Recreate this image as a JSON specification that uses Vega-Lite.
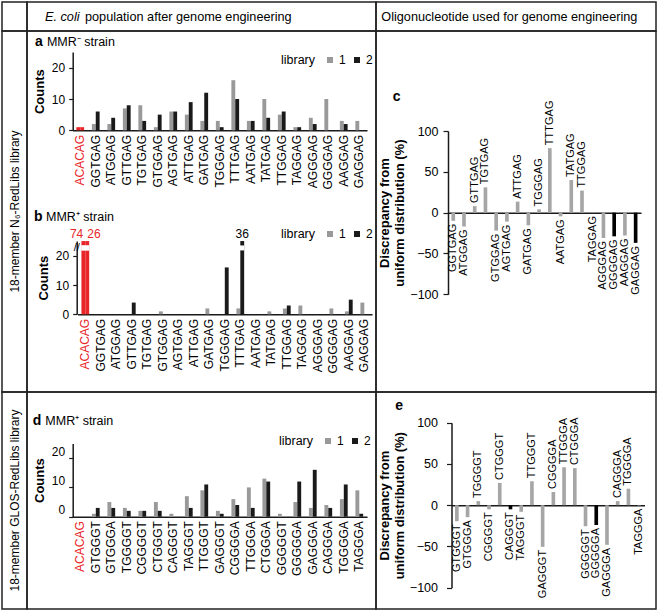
{
  "$schema": "https://vega.github.io/schema/vega-lite/v6.json",
  "padding": {"left": 1, "top": 1, "right": 2, "bottom": 2},
  "background": "white",
  "config": {
    "font": "Liberation Sans",
    "view": {"stroke": "#222222", "strokeWidth": 1.5},
    "axis": {"grid": false, "domainColor": "#1a1a1a", "domainWidth": 1.5, "tickColor": "#1a1a1a", "tickWidth": 1.2, "labelColor": "#000000", "titleColor": "#000000", "labelFont": "Liberation Sans", "titleFont": "Liberation Sans"},
    "legend": {"labelFontSize": 12, "titleFontSize": 12.5, "titleFontWeight": "normal", "titleColor": "#000000", "labelColor": "#000000", "symbolType": "square", "symbolSize": 36, "symbolStrokeWidth": 0, "columnPadding": 5, "labelOffset": 3, "titlePadding": 8},
    "text": {"font": "Liberation Sans", "color": "#000000"}
  },
  "datasets": {
    "a": [
      {"seq":"ACACAG","lib":"1","count":1},{"seq":"ACACAG","lib":"2","count":1},
      {"seq":"GGTGAG","lib":"1","count":2},{"seq":"GGTGAG","lib":"2","count":6},
      {"seq":"ATGGAG","lib":"1","count":2},{"seq":"ATGGAG","lib":"2","count":4},
      {"seq":"GTTGAG","lib":"1","count":7},{"seq":"GTTGAG","lib":"2","count":8},
      {"seq":"TGTGAG","lib":"1","count":8},{"seq":"TGTGAG","lib":"2","count":3},
      {"seq":"GTGGAG","lib":"1","count":1},{"seq":"GTGGAG","lib":"2","count":5},
      {"seq":"AGTGAG","lib":"1","count":6},{"seq":"AGTGAG","lib":"2","count":6},
      {"seq":"ATTGAG","lib":"1","count":5},{"seq":"ATTGAG","lib":"2","count":9},
      {"seq":"GATGAG","lib":"1","count":3},{"seq":"GATGAG","lib":"2","count":12},
      {"seq":"TGGGAG","lib":"1","count":3},{"seq":"TGGGAG","lib":"2","count":1},
      {"seq":"TTTGAG","lib":"1","count":16},{"seq":"TTTGAG","lib":"2","count":10},
      {"seq":"AATGAG","lib":"1","count":3},{"seq":"AATGAG","lib":"2","count":3},
      {"seq":"TATGAG","lib":"1","count":10},{"seq":"TATGAG","lib":"2","count":4},
      {"seq":"TTGGAG","lib":"1","count":5},{"seq":"TTGGAG","lib":"2","count":6},
      {"seq":"TAGGAG","lib":"1","count":1},{"seq":"TAGGAG","lib":"2","count":1},
      {"seq":"AGGGAG","lib":"1","count":4},{"seq":"AGGGAG","lib":"2","count":2},
      {"seq":"GGGGAG","lib":"1","count":10},{"seq":"GGGGAG","lib":"2","count":0},
      {"seq":"AAGGAG","lib":"1","count":3},{"seq":"AAGGAG","lib":"2","count":2},
      {"seq":"GAGGAG","lib":"1","count":3},{"seq":"GAGGAG","lib":"2","count":0}
    ],
    "b": [
      {"seq":"ACACAG","lib":"1","count":74},{"seq":"ACACAG","lib":"2","count":26},
      {"seq":"GGTGAG","lib":"1","count":0},{"seq":"GGTGAG","lib":"2","count":0},
      {"seq":"ATGGAG","lib":"1","count":0},{"seq":"ATGGAG","lib":"2","count":0},
      {"seq":"GTTGAG","lib":"1","count":0},{"seq":"GTTGAG","lib":"2","count":4},
      {"seq":"TGTGAG","lib":"1","count":0},{"seq":"TGTGAG","lib":"2","count":0},
      {"seq":"GTGGAG","lib":"1","count":1},{"seq":"GTGGAG","lib":"2","count":0},
      {"seq":"AGTGAG","lib":"1","count":0},{"seq":"AGTGAG","lib":"2","count":0},
      {"seq":"ATTGAG","lib":"1","count":0},{"seq":"ATTGAG","lib":"2","count":0},
      {"seq":"GATGAG","lib":"1","count":2},{"seq":"GATGAG","lib":"2","count":0},
      {"seq":"TGGGAG","lib":"1","count":0},{"seq":"TGGGAG","lib":"2","count":16},
      {"seq":"TTTGAG","lib":"1","count":2},{"seq":"TTTGAG","lib":"2","count":36},
      {"seq":"AATGAG","lib":"1","count":0},{"seq":"AATGAG","lib":"2","count":0},
      {"seq":"TATGAG","lib":"1","count":1},{"seq":"TATGAG","lib":"2","count":0},
      {"seq":"TTGGAG","lib":"1","count":2},{"seq":"TTGGAG","lib":"2","count":3},
      {"seq":"TAGGAG","lib":"1","count":3},{"seq":"TAGGAG","lib":"2","count":0},
      {"seq":"AGGGAG","lib":"1","count":0},{"seq":"AGGGAG","lib":"2","count":0},
      {"seq":"GGGGAG","lib":"1","count":2},{"seq":"GGGGAG","lib":"2","count":0},
      {"seq":"AAGGAG","lib":"1","count":1},{"seq":"AAGGAG","lib":"2","count":5},
      {"seq":"GAGGAG","lib":"1","count":4},{"seq":"GAGGAG","lib":"2","count":0}
    ],
    "d": [
      {"seq":"ACACAG","lib":"1","count":0},{"seq":"ACACAG","lib":"2","count":0},
      {"seq":"GTGGGT","lib":"1","count":1},{"seq":"GTGGGT","lib":"2","count":3},
      {"seq":"GTGGGA","lib":"1","count":5},{"seq":"GTGGGA","lib":"2","count":3},
      {"seq":"TGGGGT","lib":"1","count":3},{"seq":"TGGGGT","lib":"2","count":2},
      {"seq":"CGGGGT","lib":"1","count":2},{"seq":"CGGGGT","lib":"2","count":2},
      {"seq":"CTGGGT","lib":"1","count":5},{"seq":"CTGGGT","lib":"2","count":2},
      {"seq":"CAGGGT","lib":"1","count":1},{"seq":"CAGGGT","lib":"2","count":0},
      {"seq":"TAGGGT","lib":"1","count":7},{"seq":"TAGGGT","lib":"2","count":3},
      {"seq":"TTGGGT","lib":"1","count":9},{"seq":"TTGGGT","lib":"2","count":11},
      {"seq":"GAGGGT","lib":"1","count":2},{"seq":"GAGGGT","lib":"2","count":1},
      {"seq":"CGGGGA","lib":"1","count":6},{"seq":"CGGGGA","lib":"2","count":4},
      {"seq":"TTGGGA","lib":"1","count":10},{"seq":"TTGGGA","lib":"2","count":3},
      {"seq":"CTGGGA","lib":"1","count":13},{"seq":"CTGGGA","lib":"2","count":12},
      {"seq":"GGGGGT","lib":"1","count":1},{"seq":"GGGGGT","lib":"2","count":0},
      {"seq":"GGGGGA","lib":"1","count":5},{"seq":"GGGGGA","lib":"2","count":12},
      {"seq":"GAGGGA","lib":"1","count":3},{"seq":"GAGGGA","lib":"2","count":16},
      {"seq":"CAGGGA","lib":"1","count":4},{"seq":"CAGGGA","lib":"2","count":3},
      {"seq":"TGGGGA","lib":"1","count":6},{"seq":"TGGGGA","lib":"2","count":11},
      {"seq":"TAGGGA","lib":"1","count":9},{"seq":"TAGGGA","lib":"2","count":1}
    ],
    "c": [
      {"seq":"GGTGAG","value":-10,"highlight":false},
      {"seq":"ATGGAG","value":-17,"highlight":false},
      {"seq":"GTTGAG","value":8,"highlight":false},
      {"seq":"TGTGAG","value":31,"highlight":false},
      {"seq":"GTGGAG","value":-22,"highlight":false},
      {"seq":"AGTGAG","value":-11,"highlight":false},
      {"seq":"ATTGAG","value":13.5,"highlight":false},
      {"seq":"GATGAG","value":-15.5,"highlight":false},
      {"seq":"TGGGAG","value":4,"highlight":false},
      {"seq":"TTTGAG","value":79,"highlight":false},
      {"seq":"AATGAG","value":-4.5,"highlight":false},
      {"seq":"TATGAG","value":40,"highlight":false},
      {"seq":"TTGGAG","value":27,"highlight":false},
      {"seq":"TAGGAG","value":-0.5,"highlight":false},
      {"seq":"AGGGAG","value":-31,"highlight":false},
      {"seq":"GGGGAG","value":-29,"highlight":true},
      {"seq":"AAGGAG","value":-28,"highlight":false},
      {"seq":"GAGGAG","value":-37,"highlight":true}
    ],
    "e": [
      {"seq":"GTGGGT","value":-19.5,"highlight":false},
      {"seq":"GTGGGA","value":-14.5,"highlight":false},
      {"seq":"TGGGGT","value":5,"highlight":false},
      {"seq":"CGGGGT","value":-5,"highlight":false},
      {"seq":"CTGGGT","value":27,"highlight":false},
      {"seq":"CAGGGT","value":-5,"highlight":true},
      {"seq":"TAGGGT","value":-8,"highlight":false},
      {"seq":"TTGGGT","value":29,"highlight":false},
      {"seq":"GAGGGT","value":-50.5,"highlight":false},
      {"seq":"CGGGGA","value":16,"highlight":false},
      {"seq":"TTGGGA","value":46,"highlight":false},
      {"seq":"CTGGGA","value":45,"highlight":false},
      {"seq":"GGGGGT","value":-25.5,"highlight":false},
      {"seq":"GGGGGA","value":-24,"highlight":true},
      {"seq":"GAGGGA","value":-48,"highlight":false},
      {"seq":"CAGGGA","value":5,"highlight":false},
      {"seq":"TGGGGA","value":20,"highlight":false},
      {"seq":"TAGGGA","value":-0.5,"highlight":false}
    ]
  },
  "columns": 3,
  "spacing": 0,
  "bounds": "flush",
  "resolve": {"scale": {"color": "independent", "xOffset": "independent"}, "legend": {"color": "independent"}},
  "concat": [
    {"width": 25, "height": 29, "data": {"values": [{}]}, "mark": {"type": "text", "text": " "},
     "encoding": {"x": {"datum": 0.5, "type": "quantitative", "scale": {"domain": [0, 1]}, "axis": null}, "y": {"datum": 0.5, "type": "quantitative", "scale": {"domain": [0, 1]}, "axis": null}}},
    {"width": 349, "height": 29, "data": {"values": [{}]},
     "encoding": {"x": {"datum": 0.5, "type": "quantitative", "scale": {"domain": [0, 1]}, "axis": null}, "y": {"datum": 0.5, "type": "quantitative", "scale": {"domain": [0, 1]}, "axis": null}},
     "layer": [
       {"mark": {"type": "text", "text": "E. coli", "fontStyle": "italic", "align": "left", "baseline": "middle", "fontSize": 12.7, "dx": -156.5}},
       {"mark": {"type": "text", "text": "population after genome engineering", "align": "left", "baseline": "middle", "fontSize": 12.7, "dx": -116.5}}
     ]},
    {"width": 280, "height": 29, "data": {"values": [{}]},
     "mark": {"type": "text", "text": "Oligonucleotide used for genome engineering", "align": "left", "baseline": "middle", "fontSize": 12.7, "dx": -134.7},
     "encoding": {"x": {"datum": 0.5, "type": "quantitative", "scale": {"domain": [0, 1]}, "axis": null}, "y": {"datum": 0.5, "type": "quantitative", "scale": {"domain": [0, 1]}, "axis": null}}},

    {"width": 25, "height": 361, "data": {"values": [{}]},
     "mark": {"type": "text", "text": "18-member N₆-RedLibs library", "angle": 270, "fontSize": 12, "align": "center", "baseline": "middle"},
     "encoding": {"x": {"datum": 0.5, "type": "quantitative", "scale": {"domain": [0, 1]}, "axis": null}, "y": {"datum": 0.5, "type": "quantitative", "scale": {"domain": [0, 1]}, "axis": null}}},
    {"width": 349, "height": 361,
     "layer": [
       {"data": {"name": "a"},
        "layer": [
          {"mark": {"type": "bar"},
           "encoding": {
             "x": {"field": "seq", "type": "nominal",
                   "scale": {"domain": ["ACACAG","GGTGAG","ATGGAG","GTTGAG","TGTGAG","GTGGAG","AGTGAG","ATTGAG","GATGAG","TGGGAG","TTTGAG","AATGAG","TATGAG","TTGGAG","TAGGAG","AGGGAG","GGGGAG","AAGGAG","GAGGAG"], "range": [45.5, 340], "paddingInner": 0.5, "paddingOuter": 0.25},
                   "axis": {"orient": "bottom", "offset": -261.7, "title": null, "ticks": false, "labelAngle": -90, "labelFontSize": 12, "labelPadding": 4,
                            "labelColor": {"condition": {"test": "datum.value === 'ACACAG'", "value": "#e8262a"}, "value": "#000000"}}},
             "xOffset": {"field": "lib", "type": "nominal"},
             "y": {"field": "count", "type": "quantitative",
                   "scale": {"domain": [0, 25], "range": [99.3, 21.05], "nice": false},
                   "axis": {"orient": "left", "offset": -45.7, "values": [0, 10, 20], "title": "Counts", "titleFontSize": 13, "titleFontWeight": "bold", "labelFontSize": 12, "tickSize": 4, "labelPadding": 4, "titlePadding": 5}},
             "color": {"condition": {"test": "datum.seq === 'ACACAG'", "value": "#e8262a"},
                       "field": "lib", "type": "nominal",
                       "scale": {"domain": ["1", "2"], "range": ["#999999", "#1a1a1a"]},
                       "legend": {"orient": "none", "legendX": 254, "legendY": 23, "direction": "horizontal", "title": "library", "titleOrient": "left"}}
           }},
          {"data": {"values": [{"t": "a"}]},
           "mark": {"type": "text", "align": "left", "baseline": "middle", "fontSize": 14, "fontWeight": "bold", "dx": -45.3, "dy": -10},
           "encoding": {"x": {"datum": "ACACAG"}, "y": {"datum": 25}, "text": {"field": "t"}}},
          {"data": {"values": [{"t": "MMR⁻ strain"}]},
           "mark": {"type": "text", "align": "left", "baseline": "middle", "fontSize": 12.5, "dx": -33.3, "dy": -10},
           "encoding": {"x": {"datum": "ACACAG"}, "y": {"datum": 25}, "text": {"field": "t"}}}
        ]},
       {"data": {"name": "b"},
        "layer": [
          {"mark": {"type": "bar"},
           "encoding": {
             "x": {"field": "seq", "type": "nominal",
                   "scale": {"domain": ["ACACAG","GGTGAG","ATGGAG","GTTGAG","TGTGAG","GTGGAG","AGTGAG","ATTGAG","GATGAG","TGGGAG","TTTGAG","AATGAG","TATGAG","TTGGAG","TAGGAG","AGGGAG","GGGGAG","AAGGAG","GAGGAG"], "range": [50.55, 345.05], "paddingInner": 0.5, "paddingOuter": 0.25},
                   "axis": {"orient": "bottom", "offset": -77.7, "title": null, "ticks": false, "labelAngle": -90, "labelFontSize": 12, "labelPadding": 4,
                            "labelColor": {"condition": {"test": "datum.value === 'ACACAG'", "value": "#e8262a"}, "value": "#000000"}}},
             "xOffset": {"field": "lib", "type": "nominal"},
             "y": {"field": "count", "type": "quantitative",
                   "scale": {"domain": [0, 25], "range": [283.3, 210.05], "nice": false, "clamp": true},
                   "axis": {"orient": "left", "offset": -49.7, "values": [0, 10, 20], "title": "Counts", "titleFontSize": 13, "titleFontWeight": "bold", "labelFontSize": 12, "tickSize": 4, "labelPadding": 4, "titlePadding": 5}},
             "color": {"condition": {"test": "datum.seq === 'ACACAG'", "value": "#e8262a"},
                       "field": "lib", "type": "nominal",
                       "scale": {"domain": ["1", "2"], "range": ["#999999", "#1a1a1a"]},
                       "legend": {"orient": "none", "legendX": 254, "legendY": 197, "direction": "horizontal", "title": "library", "titleOrient": "left"}}
           }},
          {"transform": [{"filter": "datum.count > 25"}],
           "mark": {"type": "rect", "color": "white"},
           "encoding": {"x": {"field": "seq", "type": "nominal"}, "y": {"datum": 21.8}, "y2": {"datum": 23.5}}},
          {"transform": [{"filter": "datum.count > 25 && datum.lib === '1'"}],
           "mark": {"type": "text", "align": "right", "baseline": "middle", "fontSize": 12, "color": "#e8262a", "dx": -2, "dy": -7.5},
           "encoding": {"x": {"field": "seq", "type": "nominal"}, "y": {"datum": 25}, "text": {"field": "count"}}},
          {"transform": [{"filter": "datum.count > 25 && datum.lib === '2' && datum.seq === 'ACACAG'"}],
           "mark": {"type": "text", "align": "left", "baseline": "middle", "fontSize": 12, "color": "#e8262a", "dx": 2, "dy": -7.5},
           "encoding": {"x": {"field": "seq", "type": "nominal"}, "y": {"datum": 25}, "text": {"field": "count"}}},
          {"transform": [{"filter": "datum.count > 25 && datum.seq !== 'ACACAG'"}],
           "mark": {"type": "text", "align": "center", "baseline": "middle", "fontSize": 12, "color": "#000000", "dy": -7.5},
           "encoding": {"x": {"field": "seq", "type": "nominal"}, "xOffset": {"field": "lib", "type": "nominal"}, "y": {"datum": 25}, "text": {"field": "count"}}},
          {"data": {"values": [{"t": "//"}]},
           "mark": {"type": "text", "align": "center", "baseline": "middle", "fontSize": 11, "dx": -8.6},
           "encoding": {"x": {"datum": "ACACAG"}, "y": {"datum": 22.6}, "text": {"field": "t"}}},
          {"data": {"values": [{"t": "b"}]},
           "mark": {"type": "text", "align": "left", "baseline": "middle", "fontSize": 14, "fontWeight": "bold", "dx": -51.3, "dy": -24},
           "encoding": {"x": {"datum": "ACACAG"}, "y": {"datum": 25}, "text": {"field": "t"}}},
          {"data": {"values": [{"t": "MMR⁺ strain"}]},
           "mark": {"type": "text", "align": "left", "baseline": "middle", "fontSize": 12.5, "dx": -39.3, "dy": -24},
           "encoding": {"x": {"datum": "ACACAG"}, "y": {"datum": 25}, "text": {"field": "t"}}}
        ]}
     ],
     "resolve": {"scale": {"x": "independent", "y": "independent", "xOffset": "independent", "color": "independent"}, "axis": {"x": "independent", "y": "independent"}, "legend": {"color": "independent"}}
    },
    {"width": 280, "height": 361, "data": {"name": "c"},
     "layer": [
       {"mark": {"type": "bar"},
        "encoding": {
          "x": {"field": "seq", "type": "nominal",
                "scale": {"domain": ["GGTGAG","ATGGAG","GTTGAG","TGTGAG","GTGGAG","AGTGAG","ATTGAG","GATGAG","TGGGAG","TTTGAG","AATGAG","TATGAG","TTGGAG","TAGGAG","AGGGAG","GGGGAG","AAGGAG","GAGGAG"], "range": [71.9, 265], "paddingInner": 0.66, "paddingOuter": 0.33},
                "axis": {"orient": "bottom", "offset": -179.35, "labels": false, "ticks": false, "title": null}},
          "y": {"field": "value", "type": "quantitative",
                "scale": {"domain": [-100, 100], "range": [263.3, 100], "nice": false},
                "axis": {"orient": "left", "offset": -72, "values": [-100, -50, 0, 50, 100], "title": ["Discrepancy from", "uniform distribution (%)"], "titleFontSize": 13, "titleFontWeight": "bold", "titleLineHeight": 15, "labelFontSize": 12.5, "tickSize": 5, "labelPadding": 5, "titlePadding": 3}},
          "color": {"condition": {"test": "datum.highlight", "value": "#000000"}, "value": "#a6a6a6"}
        }},
       {"transform": [{"filter": "datum.value >= 0"}],
        "mark": {"type": "text", "angle": 270, "align": "left", "baseline": "middle", "fontSize": 11, "dx": 3},
        "encoding": {"x": {"field": "seq", "type": "nominal"}, "y": {"field": "value", "type": "quantitative"}, "text": {"field": "seq"}}},
       {"transform": [{"filter": "datum.value < 0"}],
        "mark": {"type": "text", "angle": 270, "align": "right", "baseline": "middle", "fontSize": 11, "dx": -3},
        "encoding": {"x": {"field": "seq", "type": "nominal"}, "y": {"field": "value", "type": "quantitative"}, "text": {"field": "seq"}}},
       {"data": {"values": [{"t": "c"}]},
        "mark": {"type": "text", "align": "left", "baseline": "middle", "fontSize": 14, "fontWeight": "bold", "dx": -60.6, "dy": -34.5},
        "encoding": {"x": {"datum": "GGTGAG"}, "y": {"datum": 100}, "text": {"field": "t"}}}
     ]},

    {"width": 25, "height": 217, "data": {"values": [{}]},
     "mark": {"type": "text", "text": "18-member GLOS-RedLibs library", "angle": 270, "fontSize": 12, "align": "center", "baseline": "middle"},
     "encoding": {"x": {"datum": 0.5, "type": "quantitative", "scale": {"domain": [0, 1]}, "axis": null}, "y": {"datum": 0.5, "type": "quantitative", "scale": {"domain": [0, 1]}, "axis": null}}},
    {"width": 349, "height": 217, "data": {"name": "d"},
     "layer": [
       {"mark": {"type": "bar"},
        "encoding": {
          "x": {"field": "seq", "type": "nominal",
                "scale": {"domain": ["ACACAG","GTGGGT","GTGGGA","TGGGGT","CGGGGT","CTGGGT","CAGGGT","TAGGGT","TTGGGT","GAGGGT","CGGGGA","TTGGGA","CTGGGA","GGGGGT","GGGGGA","GAGGGA","CAGGGA","TGGGGA","TAGGGA"], "range": [45.55, 340.05], "paddingInner": 0.5, "paddingOuter": 0.25},
                "axis": {"orient": "bottom", "offset": -92.3, "title": null, "ticks": false, "labelAngle": -90, "labelFontSize": 12, "labelPadding": 4,
                         "labelColor": {"condition": {"test": "datum.value === 'ACACAG'", "value": "#e8262a"}, "value": "#000000"}}},
          "xOffset": {"field": "lib", "type": "nominal"},
          "y": {"field": "count", "type": "quantitative",
                "scale": {"domain": [0, 25], "range": [124.7, 51.45], "nice": false},
                "axis": {"orient": "left", "offset": -45.7, "values": [0, 10, 20], "title": "Counts", "titleFontSize": 13, "titleFontWeight": "bold", "labelFontSize": 12, "tickSize": 4, "labelPadding": 4, "labelOffset": -7, "titlePadding": 5}},
          "color": {"condition": {"test": "datum.seq === 'ACACAG'", "value": "#e8262a"},
                    "field": "lib", "type": "nominal",
                    "scale": {"domain": ["1", "2"], "range": ["#999999", "#1a1a1a"]},
                    "legend": {"orient": "none", "legendX": 252, "legendY": 43, "direction": "horizontal", "title": "library", "titleOrient": "left"}}
        }},
       {"data": {"values": [{"t": "d"}]},
        "mark": {"type": "text", "align": "left", "baseline": "middle", "fontSize": 14, "fontWeight": "bold", "dx": -47.6, "dy": -22.5},
        "encoding": {"x": {"datum": "ACACAG"}, "y": {"datum": 25}, "text": {"field": "t"}}},
       {"data": {"values": [{"t": "MMR⁺ strain"}]},
        "mark": {"type": "text", "align": "left", "baseline": "middle", "fontSize": 12.5, "dx": -35, "dy": -22.5},
        "encoding": {"x": {"datum": "ACACAG"}, "y": {"datum": 25}, "text": {"field": "t"}}}
     ]},
    {"width": 280, "height": 217, "data": {"name": "e"},
     "layer": [
       {"mark": {"type": "bar"},
        "encoding": {
          "x": {"field": "seq", "type": "nominal",
                "scale": {"domain": ["GTGGGT","GTGGGA","TGGGGT","CGGGGT","CTGGGT","CAGGGT","TAGGGT","TTGGGT","GAGGGT","CGGGGA","TTGGGA","CTGGGA","GGGGGT","GGGGGA","GAGGGA","CAGGGA","TGGGGA","TAGGGA"], "range": [75.5, 268.5], "paddingInner": 0.66, "paddingOuter": 0.33},
                "axis": {"orient": "bottom", "offset": -103.8, "labels": false, "ticks": false, "title": null}},
          "y": {"field": "value", "type": "quantitative",
                "scale": {"domain": [-100, 100], "range": [195.7, 30.7], "nice": false},
                "axis": {"orient": "left", "offset": -75.5, "values": [-100, -50, 0, 50, 100], "title": ["Discrepancy from", "uniform distribution (%)"], "titleFontSize": 13, "titleFontWeight": "bold", "titleLineHeight": 15, "labelFontSize": 12.5, "tickSize": 5, "labelPadding": 9, "titlePadding": 3}},
          "color": {"condition": {"test": "datum.highlight", "value": "#000000"}, "value": "#a6a6a6"}
        }},
       {"transform": [{"filter": "datum.value >= 0"}],
        "mark": {"type": "text", "angle": 270, "align": "left", "baseline": "middle", "fontSize": 11, "dx": 3},
        "encoding": {"x": {"field": "seq", "type": "nominal"}, "y": {"field": "value", "type": "quantitative"}, "text": {"field": "seq"}}},
       {"transform": [{"filter": "datum.value < 0"}],
        "mark": {"type": "text", "angle": 270, "align": "right", "baseline": "middle", "fontSize": 11, "dx": -3},
        "encoding": {"x": {"field": "seq", "type": "nominal"}, "y": {"field": "value", "type": "quantitative"}, "text": {"field": "seq"}}},
       {"data": {"values": [{"t": "e"}]},
        "mark": {"type": "text", "align": "left", "baseline": "middle", "fontSize": 14, "fontWeight": "bold", "dx": -61.6, "dy": -16.4},
        "encoding": {"x": {"datum": "GTGGGT"}, "y": {"datum": 100}, "text": {"field": "t"}}}
     ]}
  ]
}
